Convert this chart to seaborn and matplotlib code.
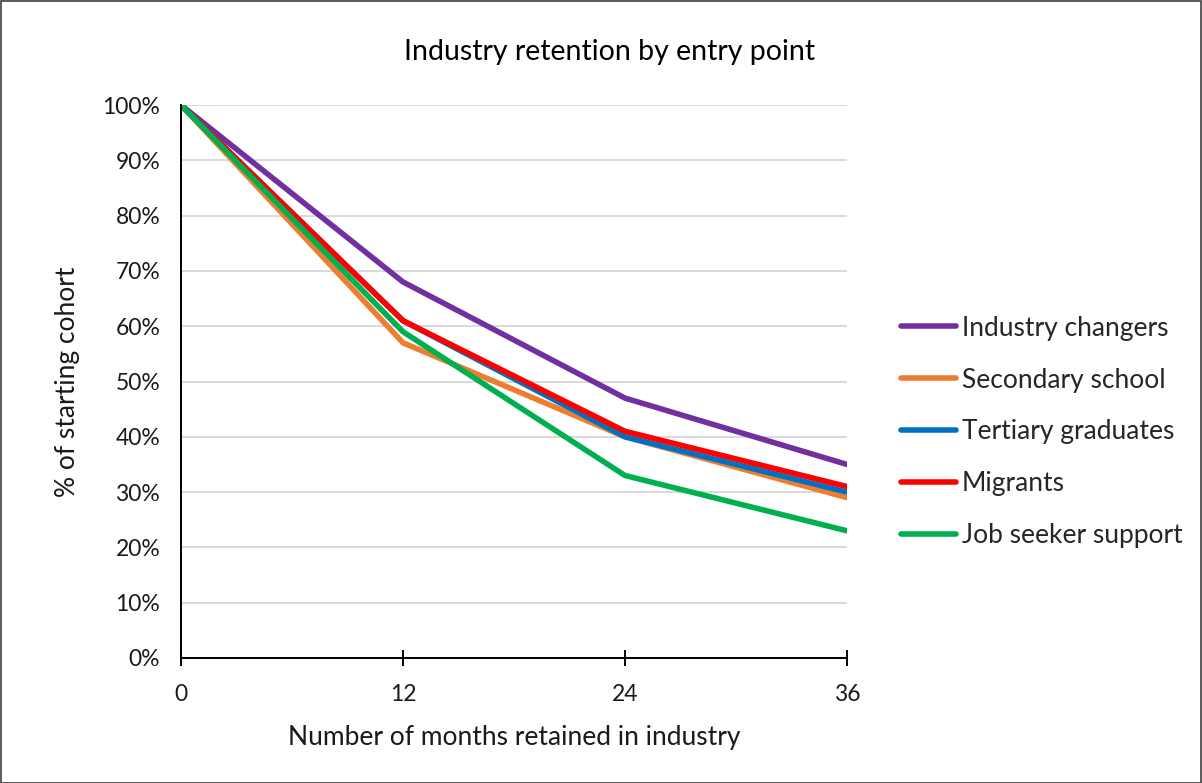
import numpy as np
import pandas as pd
import matplotlib
matplotlib.use("Agg")
import matplotlib.pyplot as plt
import seaborn as sns
from matplotlib.patches import Rectangle
from matplotlib.ticker import PercentFormatter

months = [0, 12, 24, 36]
industry_changers = [100, 68, 47, 35]
secondary_school = [100, 57, 40, 29]
tertiary_graduates = [100, 61, 40, 30]
migrants = [100, 61, 41, 31]
job_seeker_support = [100, 59, 33, 23]

series_names = ["Industry changers", "Secondary school", "Tertiary graduates",
                "Migrants", "Job seeker support"]
series_values = [industry_changers, secondary_school, tertiary_graduates,
                 migrants, job_seeker_support]
colors = ["#7030A0", "#ED7D31", "#0070C0", "#FF0000", "#00B050"]
y_ticks = list(range(0, 101, 10))

df = pd.DataFrame(
    [(name, m, v) for name, vals in zip(series_names, series_values)
     for m, v in zip(months, vals)],
    columns=["series", "month", "pct"],
)

sns.set_theme(style="white")
plt.rcParams["font.family"] = ["Lato", "DejaVu Sans"]

fig = plt.figure(figsize=(12.02, 7.83), dpi=100)
ax = fig.add_axes([181 / 1202, 1 - 658 / 783, (847 - 181) / 1202, (658 - 105) / 783])

sns.lineplot(data=df, x="month", y="pct", hue="series", hue_order=series_names,
             palette=dict(zip(series_names, colors)), linewidth=4.0, ax=ax,
             legend=True)
for line in ax.get_lines():
    line.set_solid_capstyle("round")
    line.set_solid_joinstyle("miter")

ax.set_xlim(0, 36)
ax.set_ylim(0, 100)
ax.set_xticks(months)
ax.set_yticks(y_ticks)
ax.yaxis.set_major_formatter(PercentFormatter(decimals=0))
ax.grid(axis="y", color="#D9D9D9", linewidth=1.4)
ax.set_axisbelow(True)
for s in ["top", "right"]:
    ax.spines[s].set_visible(False)
ax.spines["left"].set_color("black")
ax.spines["bottom"].set_color("black")
ax.spines["left"].set_linewidth(1.4)
ax.spines["bottom"].set_linewidth(1.4)
ax.tick_params(axis="x", which="major", direction="inout", length=12, width=1.4,
               color="black", bottom=True, labelsize=16.5, pad=13, labelcolor="#1a1a1a")
ax.tick_params(axis="y", left=False, labelsize=16.5, pad=9, labelcolor="#1a1a1a")

ax.set_xlabel("Number of months retained in industry", fontsize=19, color="#1a1a1a",
              labelpad=14)
ax.set_ylabel("% of starting cohort", fontsize=19, color="#1a1a1a", labelpad=16)
fig.text(610 / 1202, 1 - 52 / 783, "Industry retention by entry point",
         ha="center", va="center", fontsize=20.5, color="black")

handles, labels = ax.get_legend_handles_labels()
ax.legend(handles, labels, loc="center left", bbox_to_anchor=(890 / 1202, 1 - 432 / 783),
          bbox_transform=fig.transFigure, frameon=False, fontsize=19,
          handlelength=2.1, handletextpad=0.22, labelspacing=1.02, borderaxespad=0)

fig.patches.append(Rectangle((0.5 / 1202, 0.5 / 783), 1 - 1.5 / 1202, 1 - 1.5 / 783,
                             transform=fig.transFigure, fill=False,
                             edgecolor="#404040", linewidth=1.2))

fig.savefig("out.png", dpi=100)
